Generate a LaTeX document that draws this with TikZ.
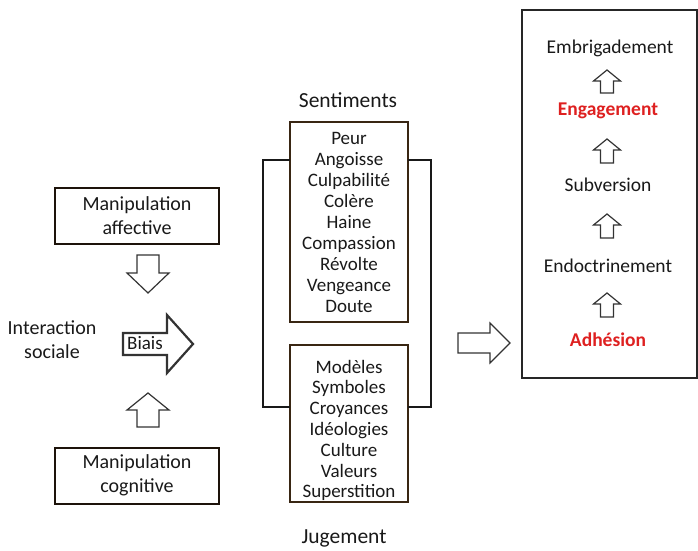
\documentclass[tikz,border=0pt]{standalone}
\usepackage{fontspec}
\setmainfont{Carlito}
\begin{document}
\begin{tikzpicture}[x=1pt,y=1pt,
  txt/.style={text=black!90, font=\fontsize{19}{21}\selectfont, align=center, inner sep=0pt},
  bigtxt/.style={txt, font=\fontsize{20}{24}\selectfont},
  labtxt/.style={txt, font=\fontsize{21.5}{24}\selectfont},
  redtxt/.style={txt, text={rgb,255:red,222;green,32;blue,32}, font=\fontsize{19.5}{21}\selectfont\bfseries},
  manbox/.style={draw=black!85!brown, line width=2pt, minimum width=164pt, minimum height=56pt, bigtxt},
  listbox/.style={draw=black!70!brown, line width=1.3pt},
  bracket/.style={draw=black!90, line width=2.4pt},
  arrowbox/.style={draw=black!80, line width=1.2pt, fill=white, line join=miter},
  framebox/.style={draw=black!85, line width=2pt}]
\useasboundingbox (0,0) rectangle (698,550);
% hollow block arrow: [style]{start}{angle}{length}{head length}{head width}{shaft width}
\newcommand\blockarrow[7][]{%
  \draw[arrowbox,#1,shift={#2},rotate=#3]
    (0,-#7/2) -- (#4-#5,-#7/2) -- (#4-#5,-#6/2) -- (#4,0) -- (#4-#5,#6/2)
    -- (#4-#5,#7/2) -- (0,#7/2) -- cycle;}

% left column
\node[manbox] (ma) at (137,334) {Manipulation\\affective};
\node[manbox] (mc) at (137,74.5) {Manipulation\\cognitive};
\node[bigtxt] (inter) at (52,210) {Interaction\\sociale};
\blockarrow{(148,295)}{-90}{38}{20}{42}{22}
\blockarrow{(148,123)}{90}{34}{17}{42}{22}
\blockarrow[line width=2.2pt]{(123,206)}{0}{70}{26}{58}{22}
\node[txt] (biais) at (145,206.5) {Biais};

% middle column
\node[labtxt] (sentlab) at (348,450) {Sentiments};
\draw[listbox] (290,428) rectangle (408,228);
\node[txt] (sent) at (349,328) {Peur\\Angoisse\\Culpabilité\\Colère\\Haine\\Compassion\\Révolte\\Vengeance\\Doute};
\draw[listbox] (290,205) rectangle (408,48);
\node[txt, font=\fontsize{19}{20.8}\selectfont] (jug) at (349,119.5) {Modèles\\Symboles\\Croyances\\Idéologies\\Culture\\Valeurs\\Superstition};
\node[labtxt] (juglab) at (344,12) {Jugement};
\draw[bracket] (290,390) -- (263,390) -- (263,143) -- (290,143);
\draw[bracket] (408,390) -- (431,390) -- (431,143) -- (408,143);

% right column
\blockarrow{(458,207)}{0}{52}{20}{40}{20}
\draw[framebox] (522,540) rectangle (697,172);
\node[txt, font=\fontsize{19.5}{21}\selectfont] (embr) at (610,502) {Embrigadement};
\node[redtxt] (eng) at (608,439) {Engagement};
\node[txt, font=\fontsize{19.5}{21}\selectfont] (subv) at (608,365) {Subversion};
\node[txt, font=\fontsize{19.5}{21}\selectfont] (endo) at (608,284) {Endoctrinement};
\node[redtxt] (adh) at (608,210) {Adhésion};
\blockarrow{(607,457)}{90}{23}{11}{27}{13}
\blockarrow{(607,387)}{90}{24}{11}{27}{13}
\blockarrow{(607,312)}{90}{24}{11}{27}{13}
\blockarrow{(607,233)}{90}{24}{11}{27}{13}
\end{tikzpicture}
\end{document}
